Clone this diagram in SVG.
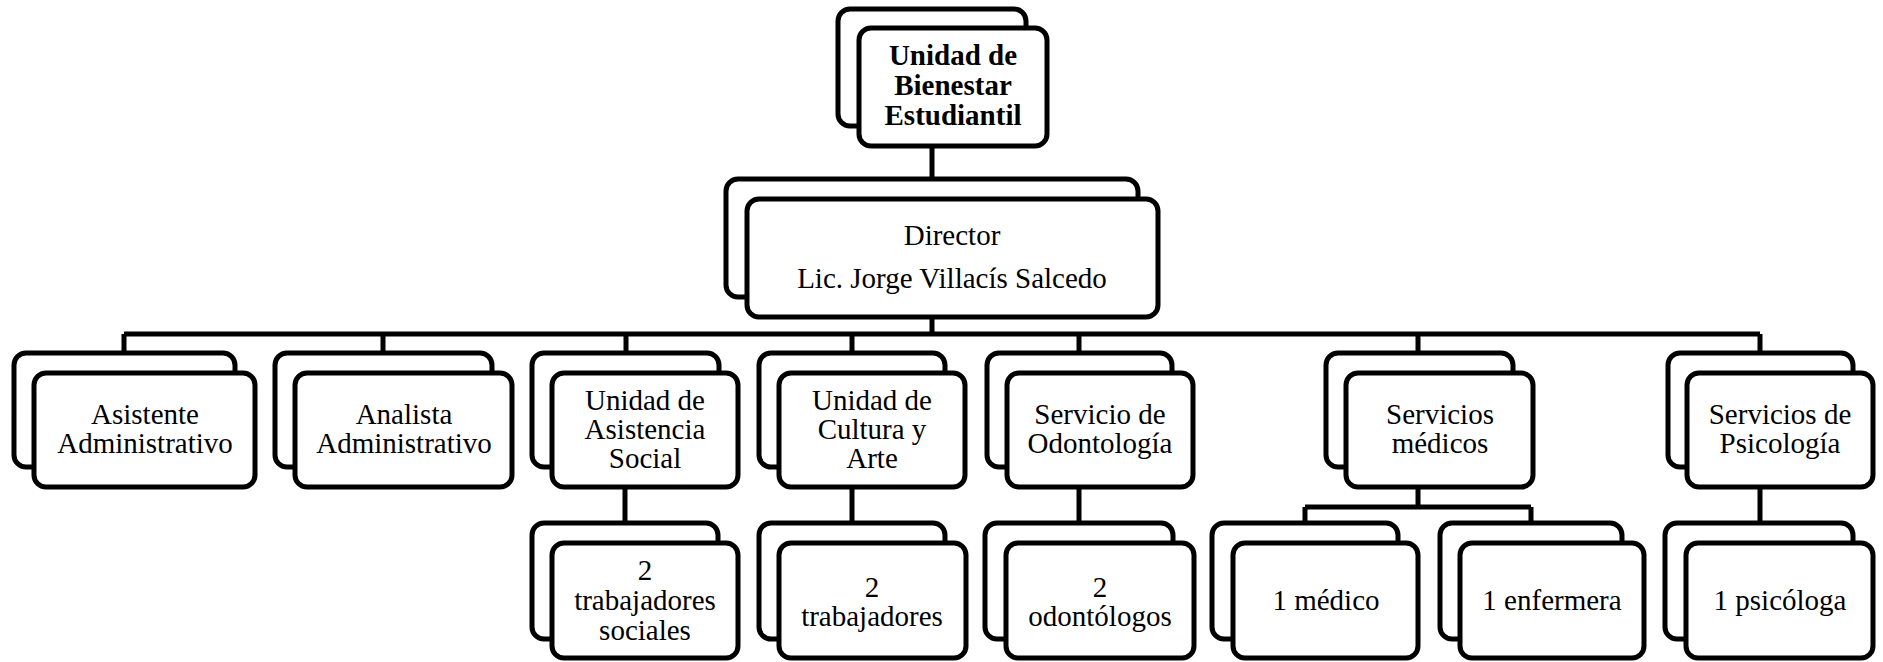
<svg xmlns="http://www.w3.org/2000/svg" width="1883" height="662" viewBox="0 0 1883 662">
<style>
rect{fill:#fff;stroke:#000;stroke-width:5}
.c{fill:none;stroke:#000;stroke-width:5}
text{font-family:"Liberation Serif","Times New Roman",serif;font-size:29px;fill:#000;text-anchor:middle}
.b{font-weight:bold}
</style>
<rect width="1883" height="662" style="fill:#fff;stroke:none"/>
<g id="connectors">
<path class="c" d="M932 146V179M932 317V334M124 334H1760M124 334V353M383 334V353M626 334V353M852 334V353M1079 334V353M1418 334V353M1760 334V353"/>
<path class="c" d="M625 487V523M852 487V523M1079 487V523M1760 487V523M1418 487V507M1305 507H1531M1305 507V523M1531 507V523"/>
</g>
<g id="n-unidad">
<rect x="838" y="9" width="188" height="117" rx="12"/>
<rect x="859" y="28" width="188" height="118" rx="12"/>
<text class="b" x="953" y="65">Unidad de</text>
<text class="b" x="953" y="95">Bienestar</text>
<text class="b" x="953" y="125">Estudiantil</text>
</g>
<g id="n-director">
<rect x="726" y="179" width="412" height="118" rx="12"/>
<rect x="747" y="199" width="411" height="118" rx="12"/>
<text x="952" y="245">Director</text>
<text x="952" y="288">Lic. Jorge Villacís Salcedo</text>
</g>
<g id="n-asistente">
<rect x="14" y="353" width="221" height="114" rx="12"/>
<rect x="34" y="373" width="221" height="114" rx="12"/>
<text x="145" y="424">Asistente</text>
<text x="145" y="453">Administrativo</text>
</g>
<g id="n-analista">
<rect x="275" y="353" width="217" height="114" rx="12"/>
<rect x="295" y="373" width="217" height="114" rx="12"/>
<text x="404" y="424">Analista</text>
<text x="404" y="453">Administrativo</text>
</g>
<g id="n-asistencia">
<rect x="532" y="353" width="187" height="114" rx="12"/>
<rect x="552" y="373" width="186" height="114" rx="12"/>
<text x="645" y="410">Unidad de</text>
<text x="645" y="439">Asistencia</text>
<text x="645" y="468">Social</text>
</g>
<g id="n-cultura">
<rect x="759" y="353" width="186" height="114" rx="12"/>
<rect x="779" y="373" width="186" height="114" rx="12"/>
<text x="872" y="410">Unidad de</text>
<text x="872" y="439">Cultura y</text>
<text x="872" y="468">Arte</text>
</g>
<g id="n-odontologia">
<rect x="987" y="353" width="185" height="114" rx="12"/>
<rect x="1007" y="373" width="186" height="114" rx="12"/>
<text x="1100" y="424">Servicio de</text>
<text x="1100" y="453">Odontología</text>
</g>
<g id="n-medicos">
<rect x="1326" y="353" width="187" height="114" rx="12"/>
<rect x="1346" y="373" width="187" height="114" rx="12"/>
<text x="1440" y="424">Servicios</text>
<text x="1440" y="453">médicos</text>
</g>
<g id="n-psicologia">
<rect x="1668" y="353" width="185" height="114" rx="12"/>
<rect x="1687" y="373" width="186" height="114" rx="12"/>
<text x="1780" y="424">Servicios de</text>
<text x="1780" y="453">Psicología</text>
</g>
<g id="n-trabsociales">
<rect x="532" y="523" width="186" height="116" rx="12"/>
<rect x="552" y="543" width="186" height="115" rx="12"/>
<text x="645" y="580">2</text>
<text x="645" y="610">trabajadores</text>
<text x="645" y="640">sociales</text>
</g>
<g id="n-trabajadores">
<rect x="759" y="523" width="186" height="116" rx="12"/>
<rect x="779" y="543" width="187" height="115" rx="12"/>
<text x="872" y="597">2</text>
<text x="872" y="626">trabajadores</text>
</g>
<g id="n-odontologos">
<rect x="985" y="523" width="188" height="116" rx="12"/>
<rect x="1006" y="543" width="188" height="115" rx="12"/>
<text x="1100" y="597">2</text>
<text x="1100" y="626">odontólogos</text>
</g>
<g id="n-medico">
<rect x="1212" y="523" width="186" height="116" rx="12"/>
<rect x="1233" y="543" width="185" height="115" rx="12"/>
<text x="1326" y="610">1 médico</text>
</g>
<g id="n-enfermera">
<rect x="1440" y="523" width="182" height="116" rx="12"/>
<rect x="1460" y="543" width="184" height="115" rx="12"/>
<text x="1552" y="610">1 enfermera</text>
</g>
<g id="n-psicologa">
<rect x="1665" y="523" width="188" height="116" rx="12"/>
<rect x="1686" y="543" width="187" height="115" rx="12"/>
<text x="1780" y="610">1 psicóloga</text>
</g>
</svg>
